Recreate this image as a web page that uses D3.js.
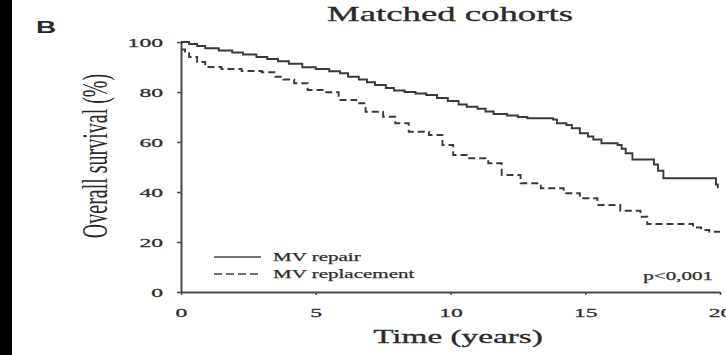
<!DOCTYPE html>
<html>
<head>
<meta charset="utf-8">
<script src="https://cdn.jsdelivr.net/npm/d3@7"></script>
<style>
  body { margin: 0; background: #fff; }
  svg { display: block; }
  text { font-family: "Liberation Serif", "Times New Roman", serif; fill: #2a2a2a; }
</style>
</head>
<body>
<div id="wrapper"></div>
<script>
// Kaplan-Meier steps
const repairTime = [0, 0.3, 0.6, 0.9, 1.4, 1.9, 2.3, 2.8, 3.2, 3.6, 4.0, 4.5, 5.0, 5.5, 5.9, 6.2, 6.6, 6.9, 7.2, 7.6, 7.9, 8.3, 8.7, 9.1, 9.5, 9.9, 10.3, 10.6, 11.0, 11.3, 11.6, 12.1, 12.5, 12.85, 13.8, 13.95, 14.3, 14.5, 14.8, 15.1, 15.3, 15.6, 16.2, 16.35, 16.5, 16.75, 17.55, 17.7, 17.9, 19.85, 19.92];
const repairSurv = [100, 99.2, 98.4, 97.5, 96.6, 95.8, 95, 94, 93.2, 92.3, 91.3, 89.9, 89.2, 88.3, 87.5, 86.1, 85, 83.9, 82.8, 81.6, 80.6, 80, 79.4, 78.8, 77.6, 76.4, 75, 74.1, 73.3, 72.2, 71.2, 70.6, 70, 69.5, 69, 67.5, 66.8, 65.5, 63.5, 62.2, 61, 59.5, 58.8, 57.3, 55.5, 53, 51, 48.5, 45.5, 43, 41.5];

const replTime = [0, 0.15, 0.3, 0.6, 0.9, 1.5, 2.25, 3.0, 3.5, 3.8, 4.2, 4.7, 5.35, 5.85, 6.5, 6.85, 7.5, 7.95, 8.45, 9.2, 9.7, 10.1, 10.6, 11.4, 11.9, 12.6, 13.35, 14.2, 14.8, 15.45, 16.3, 17.05, 17.3, 18.8, 19.0, 19.3, 19.6, 20];
const replSurv = [97, 95.5, 94, 92, 90, 89.2, 88.4, 87.9, 86.1, 85, 83.5, 80.8, 79.9, 76.8, 75.5, 72.1, 70.1, 67.5, 64.1, 62.8, 58.8, 54.8, 53.5, 51.5, 46.8, 43.5, 41.5, 39.5, 37.5, 34.8, 32.5, 30.1, 27.2, 27.2, 25.8, 24.8, 24.1, 24.1];

const xTicks = [0, 5, 10, 15, 20];
const yTicks = [0, 20, 40, 60, 80, 100];
const legendLabels = ["MV repair", "MV replacement"];
const pLabel = "p<0,001";
const title = "Matched cohorts";
const panelLetter = "B";
const xTitle = "Time (years)";
const yTitle = "Overall survival (%)";

const width = 726, height = 355;
const stretch = 1.75; // the source picture is widened horizontally
const ink = "#3a3a3a";

const svg = d3.select("#wrapper").append("svg")
  .attr("width", width)
  .attr("height", height);

svg.append("rect").attr("width", width).attr("height", height).attr("fill", "#fff");
svg.append("rect").attr("x", 0).attr("y", 0).attr("width", 12).attr("height", height).attr("fill", "#000");

const xScale = d3.scaleLinear().domain([0, 20]).range([181, 720]);
const yScale = d3.scaleLinear().domain([0, 100]).range([292, 42]);

// widen text horizontally, like the source
function widen(sel) {
  sel.each(function() {
    const len = this.getComputedTextLength();
    d3.select(this).attr("textLength", len * stretch).attr("lengthAdjust", "spacingAndGlyphs");
  });
}

const yAxis = svg.append("g")
  .attr("transform", `translate(${xScale(0)},0)`)
  .call(d3.axisLeft(yScale).tickValues(yTicks).tickSize(4).tickSizeOuter(0).tickPadding(14));
const xAxis = svg.append("g")
  .attr("transform", `translate(0,${yScale(0)})`)
  .call(d3.axisBottom(xScale).tickValues(xTicks).tickSize(3).tickSizeOuter(0).tickPadding(12));

[yAxis, xAxis].forEach(ax => {
  ax.select(".domain").attr("stroke", "#4a4a4a").attr("stroke-width", 2);
  ax.selectAll(".tick line").attr("stroke", "#4a4a4a").attr("stroke-width", 1.5);
  ax.selectAll(".tick text")
    .attr("font-family", "Liberation Serif")
    .attr("font-size", 13.5)
    .attr("fill", ink)
    .attr("stroke", ink)
    .attr("stroke-width", 0.3);
  widen(ax.selectAll(".tick text"));
});

const line = d3.line()
  .x(d => xScale(d[0]))
  .y(d => yScale(d[1]))
  .curve(d3.curveStepAfter);

const repair = repairTime.map((t, i) => [t, repairSurv[i]]);
const repl = replTime.map((t, i) => [t, replSurv[i]]);

svg.append("path")
  .attr("d", line(repair))
  .attr("fill", "none")
  .attr("stroke", "#3a3a3a")
  .attr("stroke-width", 1.9);

svg.append("path")
  .attr("d", line(repl))
  .attr("fill", "none")
  .attr("stroke", "#3a3a3a")
  .attr("stroke-width", 1.9)
  .attr("stroke-dasharray", "7,4");

// legend
const legend = svg.append("g");
legendLabels.forEach((lab, i) => {
  const y = 257 + i * 17;
  legend.append("line")
    .attr("x1", 214).attr("x2", 261)
    .attr("y1", y).attr("y2", y)
    .attr("stroke", "#444")
    .attr("stroke-width", 1.6)
    .attr("stroke-dasharray", i === 0 ? null : "8,4");
  legend.append("text")
    .attr("x", 273).attr("y", y + 4)
    .attr("font-size", 12)
    .attr("fill", ink)
    .attr("stroke", ink)
    .attr("stroke-width", 0.25)
    .text(lab);
});
widen(legend.selectAll("text"));

const pText = svg.append("text")
  .attr("x", 713).attr("y", 280)
  .attr("text-anchor", "end")
  .attr("font-size", 12)
  .attr("fill", ink)
  .attr("stroke", ink)
  .attr("stroke-width", 0.25)
  .text(pLabel);
widen(pText);

const titleText = svg.append("text")
  .attr("x", 450).attr("y", 21)
  .attr("text-anchor", "middle")
  .attr("font-size", 21)
  .attr("stroke", "#2a2a2a")
  .attr("stroke-width", 0.3)
  .text(title);
widen(titleText);

const xTitleText = svg.append("text")
  .attr("x", 458).attr("y", 343)
  .attr("text-anchor", "middle")
  .attr("font-size", 19)
  .attr("stroke", "#2a2a2a")
  .attr("stroke-width", 0.3)
  .text(xTitle);
widen(xTitleText);

svg.append("text")
  .attr("transform", `translate(107,156) scale(${stretch},1) rotate(-90)`)
  .attr("text-anchor", "middle")
  .attr("font-size", 20)
  .text(yTitle);

const letter = svg.append("text")
  .attr("x", 36).attr("y", 33)
  .style("font-family", "'Liberation Sans', Arial, sans-serif")
  .attr("font-size", 16)
  .attr("font-weight", "bold")
  .attr("fill", "#111")
  .text(panelLetter);
widen(letter);
</script>
</body>
</html>
